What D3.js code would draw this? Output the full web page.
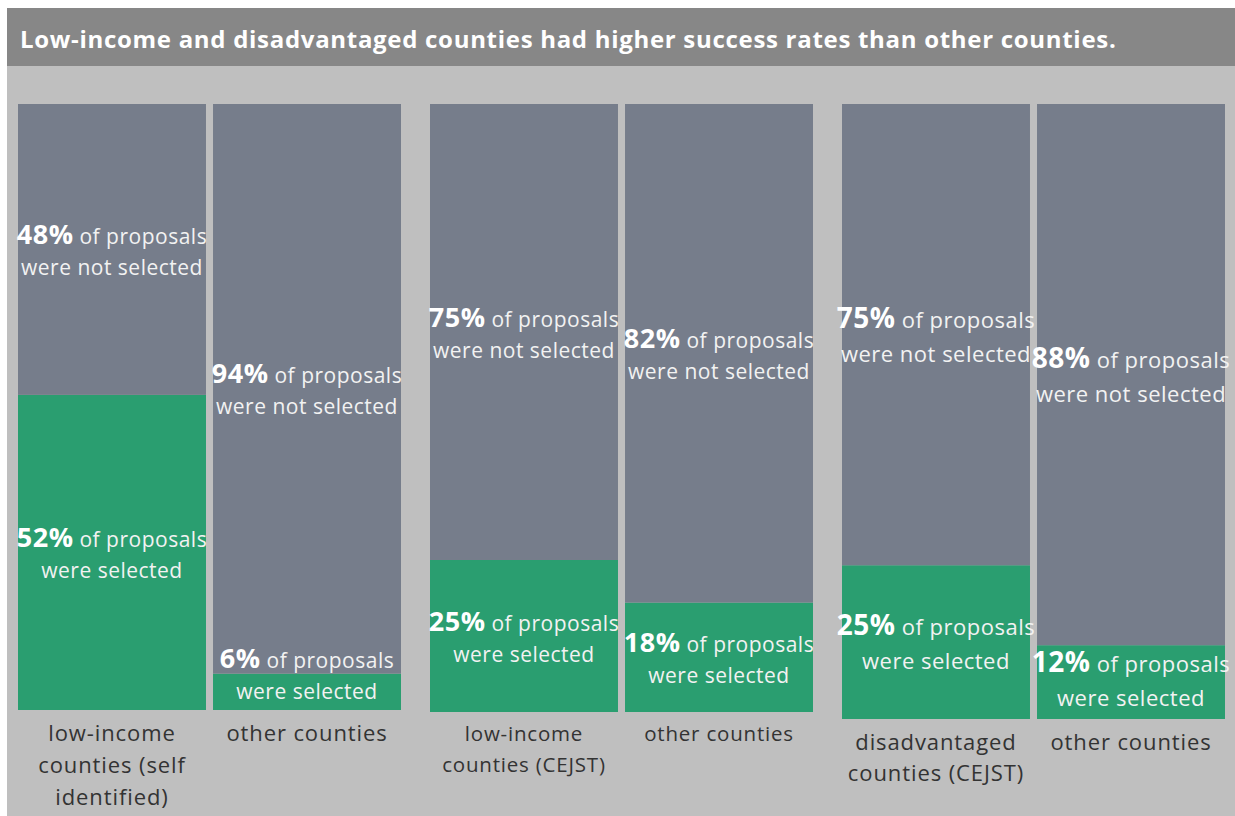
<!DOCTYPE html>
<html>
<head>
<meta charset="utf-8">
<script src="https://cdn.jsdelivr.net/npm/d3@7"></script>
<style>
  body { margin: 0; background: #fff; }
  svg { display: block; }
</style>
</head>
<body>
<svg width="1235" height="816"></svg>
<script>
// data
var title = "Low-income and disadvantaged counties had higher success rates than other counties.";
var groups = ["self identified", "CEJST low-income", "CEJST disadvantaged"];
var categories = [
  ["low-income", "counties (self", "identified)"],
  ["other counties"],
  ["low-income", "counties (CEJST)"],
  ["other counties"],
  ["disadvantaged", "counties (CEJST)"],
  ["other counties"]
];
var groupOf = [0, 0, 1, 1, 2, 2];
var selectedPct = [52, 6, 25, 18, 25, 12];
var notSelectedPct = [48, 94, 75, 82, 75, 88];

var svg = d3.select("svg");
const width = +svg.attr("width");
const height = +svg.attr("height");

const grayColor = "#767d8b";
const greenColor = "#2a9e70";
const font = "'Open Sans', sans-serif";

// title bar + background
svg.append("rect").attr("x", 7).attr("y", 8).attr("width", width - 7).attr("height", 58).attr("fill", "#878787");
svg.append("rect").attr("x", 7).attr("y", 66).attr("width", width - 7).attr("height", height - 66).attr("fill", "#bfbfbf");
svg.append("text")
  .attr("x", 20).attr("y", 48)
  .attr("fill", "#fff")
  .attr("font-family", font)
  .attr("font-weight", 700)
  .attr("font-size", 24)
  .attr("letter-spacing", 0.7)
  .text(title);

// each panel is its own little sheet, with slightly different size / fonts
var panels = [
  { x0: 18, bottom: 710, pctSize: 27, txtSize: 21, lh: 31, catSize: 22, catLs: 0.9, catLh: 32, catY: 741 },
  { x0: 430, bottom: 712, pctSize: 27, txtSize: 21, lh: 31, catSize: 20.5, catLs: 0.8, catLh: 31, catY: 741 },
  { x0: 842, bottom: 719, pctSize: 28, txtSize: 22, lh: 34, catSize: 22, catLs: 0.9, catLh: 31, catY: 750 }
];

var rows = categories.map((c, i) => ({
  idx: i,
  group: groupOf[i],
  lines: c,
  selected: selectedPct[i],
  notSelected: notSelectedPct[i]
}));

var stack = d3.stack().keys(["selected", "notSelected"]);

groups.forEach((grp, gi) => {
  var p = panels[gi];
  var data = rows.filter(r => r.group === gi);

  var x = d3.scaleBand()
    .domain(data.map(d => d.idx))
    .range([p.x0, p.x0 + 383])
    .paddingInner(0.036);

  var y = d3.scaleLinear().domain([0, 100]).range([p.bottom, 104]);

  var g = svg.append("g");
  var series = stack(data);

  series.forEach(s => {
    var color = s.key === "selected" ? greenColor : grayColor;
    g.selectAll(null)
      .data(s)
      .enter()
      .append("rect")
      .attr("x", d => x(d.data.idx))
      .attr("width", x.bandwidth())
      .attr("y", d => y(d[1]))
      .attr("height", d => y(d[0]) - y(d[1]))
      .attr("fill", color);
  });

  // segment labels
  series.forEach(s => {
    s.forEach(d => {
      var y0 = y(d[0]);
      var y1 = y(d[1]);
      var cy = Math.min((y0 + y1) / 2 + 3, y0 - p.lh - 3);
      var cx = x(d.data.idx) + x.bandwidth() / 2;
      var t = g.append("text")
        .attr("x", cx)
        .attr("y", cy - p.lh / 2 + 7)
        .attr("text-anchor", "middle")
        .attr("font-family", font)
        .attr("letter-spacing", 0.5)
        .attr("fill", "#f2f2f2");
      t.append("tspan")
        .attr("font-weight", 700)
        .attr("font-size", p.pctSize)
        .attr("fill", "#fff")
        .text(d.data[s.key] + "%");
      t.append("tspan")
        .attr("font-size", p.txtSize)
        .text(" of proposals");
      g.append("text")
        .attr("x", cx)
        .attr("y", cy + p.lh / 2 + 7)
        .attr("text-anchor", "middle")
        .attr("font-family", font)
        .attr("font-size", p.txtSize)
        .attr("letter-spacing", 0.5)
        .attr("fill", "#f2f2f2")
        .text(s.key === "selected" ? "were selected" : "were not selected");
    });
  });

  // category labels
  data.forEach(d => {
    var t = g.append("text")
      .attr("text-anchor", "middle")
      .attr("font-family", font)
      .attr("font-size", p.catSize)
      .attr("letter-spacing", p.catLs)
      .attr("fill", "#333");
    d.lines.forEach((line, li) => {
      t.append("tspan")
        .attr("x", x(d.idx) + x.bandwidth() / 2)
        .attr("y", p.catY + li * p.catLh)
        .text(line);
    });
  });
});
</script>
</body>
</html>
